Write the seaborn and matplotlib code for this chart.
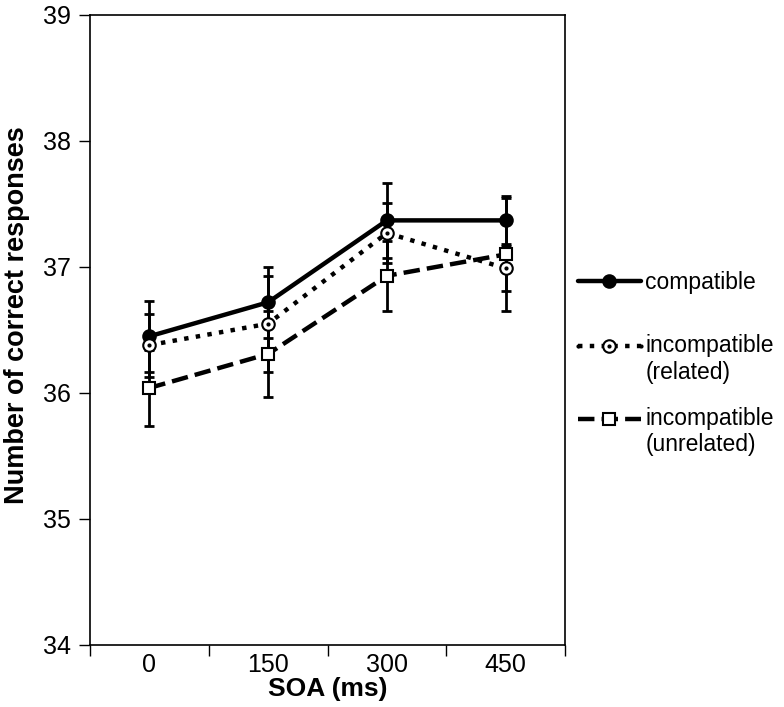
import matplotlib
matplotlib.use("Agg")
import matplotlib.pyplot as plt
from matplotlib.lines import Line2D
from matplotlib.legend_handler import HandlerLine2D
import seaborn as sns
import pandas as pd
import numpy as np

soa = ["0", "150", "300", "450"]
compatible = [36.45, 36.72, 37.37, 37.37]
compatible_se = [0.28, 0.28, 0.30, 0.19]
related = [36.38, 36.55, 37.27, 36.99]
related_se = [0.25, 0.38, 0.24, 0.18]
unrelated = [36.04, 36.31, 36.93, 37.10]
unrelated_se = [0.30, 0.34, 0.28, 0.45]
series_names = ["compatible", "incompatible\n(related)", "incompatible\n(unrelated)"]

sns.set_theme(style="white")
plt.rcParams['font.family'] = ['Liberation Sans', 'DejaVu Sans']
plt.rcParams['text.color'] = 'black'
plt.rcParams['axes.labelcolor'] = 'black'
plt.rcParams['xtick.color'] = 'black'
plt.rcParams['ytick.color'] = 'black'

rows = []
for name, vals, ses in zip(series_names, [compatible, related, unrelated],
                           [compatible_se, related_se, unrelated_se]):
    for i, (v, s) in enumerate(zip(vals, ses)):
        rows.append({"pos": i, "SOA": soa[i], "value": v, "se": s, "series": name})
df = pd.DataFrame(rows)

fig = plt.figure(figsize=(7.84, 7.07), dpi=100)
ax = fig.add_axes([90/784, 1-645/707, 475/784, 630/707])

styles = {
    series_names[0]: dict(ls="-", marker="o", mfc="black", lw=3.2),
    series_names[1]: dict(ls=":", marker="o", mfc="white", lw=3.2),
    series_names[2]: dict(ls="--", marker="s", mfc="white", lw=3.2),
}

for name in series_names:
    sub = df[df.series == name]
    st = styles[name]
    ax.errorbar(sub.pos, sub.value, yerr=sub.se, fmt="none", ecolor="black",
                elinewidth=2, capsize=3.8, capthick=2, zorder=2)
    sns.lineplot(x=sub.pos, y=sub.value, ax=ax, color="black", linestyle=st["ls"],
                 linewidth=st["lw"], marker=st["marker"], markersize=9,
                 markerfacecolor=st["mfc"], markeredgecolor="black",
                 markeredgewidth=1.5, zorder=3, legend=False)

# small centre dot for related markers
sub = df[df.series == series_names[1]]
ax.scatter(sub.pos, sub.value, s=4, color="black", zorder=4)

ax.set_xlim(-0.5, 3.5)
ax.set_ylim(34, 39)
ax.set_yticks([34, 35, 36, 37, 38, 39])
ax.set_xticks(range(4))
ax.set_xticklabels(soa)
ax.set_xticks(np.arange(-0.5, 4, 1), minor=True)
ax.tick_params(axis="x", which="major", length=0, labelsize=18, pad=6)
ax.tick_params(axis="x", which="minor", length=8, width=1, color="black", direction="out", bottom=True)
ax.tick_params(axis="y", length=8, width=1, color="black", direction="out", left=True, labelsize=18, pad=6)
for sp in ax.spines.values():
    sp.set_visible(True)
    sp.set_color("black")
    sp.set_linewidth(1.2)

ax.set_xlabel("SOA (ms)", fontsize=19, fontweight="bold", labelpad=0)
ax.set_ylabel("Number of correct responses", fontsize=19.5, fontweight="bold")
ax.yaxis.set_label_coords((30 - 90) / 475, (645 - 315) / 630)


class ShiftedHandler(HandlerLine2D):
    def __init__(self, dy=0.0, centre_dot=False, **kw):
        super().__init__(**kw)
        self.dy = dy
        self.centre_dot = centre_dot

    def create_artists(self, legend, orig_handle, xdescent, ydescent,
                       width, height, fontsize, trans):
        arts = super().create_artists(legend, orig_handle, xdescent,
                                      ydescent - 2 * self.dy, width, height,
                                      fontsize, trans)
        if self.centre_dot:
            mk = arts[-1]
            dot = Line2D(mk.get_xdata(), mk.get_ydata(), linestyle="none",
                         marker="o", markersize=2, color="black")
            dot.set_transform(trans)
            arts = list(arts) + [dot]
        return arts


def make_handle(name):
    st = styles[name]
    return Line2D([], [], color="black", linestyle=st["ls"], linewidth=st["lw"],
                  marker=st["marker"], markersize=9, markerfacecolor=st["mfc"],
                  markeredgecolor="black", markeredgewidth=1.5)


h = [make_handle(n) for n in series_names]
common = dict(frameon=False, fontsize=16.5, handlelength=2.75, handletextpad=0.2,
              numpoints=1, borderaxespad=0, borderpad=0)

leg1 = ax.legend([h[0]], [series_names[0]], loc="center left",
                 bbox_to_anchor=(1.027, (645 - 283) / 630), **common)
ax.add_artist(leg1)
leg2 = ax.legend(h[1:], series_names[1:], loc="upper left",
                 bbox_to_anchor=(1.027, (645 - 334) / 630), labelspacing=1.0,
                 handler_map={h[1]: ShiftedHandler(dy=9.9, centre_dot=True),
                              h[2]: ShiftedHandler(dy=9.9)},
                 **common)

fig.savefig("out.png", dpi=100)
